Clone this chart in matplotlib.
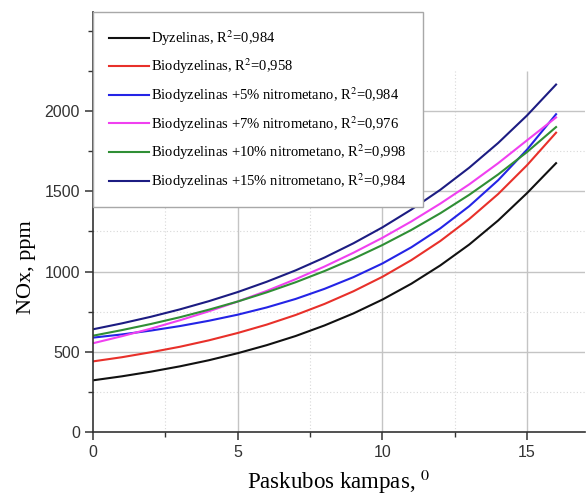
"""NOx emission versus injection advance angle for diesel and biodiesel blends."""

import matplotlib
matplotlib.use("Agg")
import matplotlib.pyplot as plt
from matplotlib.ticker import MultipleLocator

plt.rcParams["mathtext.fontset"] = "stix"

angle = list(range(0, 17))

nox_diesel = [322, 347, 376, 409, 447, 491, 541, 598, 664, 739, 825, 924, 1038, 1168, 1318, 1489, 1675]
nox_bio = [440, 466, 497, 531, 571, 617, 669, 729, 798, 877, 967, 1071, 1190, 1327, 1483, 1663, 1865]
nox_bio5 = [588, 608, 632, 660, 693, 731, 776, 829, 892, 965, 1050, 1151, 1269, 1407, 1569, 1760, 1980]
nox_bio7 = [553, 597, 644, 696, 752, 813, 879, 952, 1031, 1117, 1210, 1312, 1423, 1543, 1675, 1818, 1960]
nox_bio10 = [600, 635, 673, 715, 762, 813, 870, 933, 1003, 1080, 1165, 1259, 1363, 1478, 1605, 1745, 1900]
nox_bio15 = [640, 677, 718, 764, 815, 872, 936, 1007, 1087, 1176, 1275, 1386, 1509, 1647, 1801, 1973, 2165]

labels = [
    r"Dyzelinas, R$^2$=0,984",
    r"Biodyzelinas, R$^2$=0,958",
    r"Biodyzelinas +5% nitrometano, R$^2$=0,984",
    r"Biodyzelinas +7% nitrometano, R$^2$=0,976",
    r"Biodyzelinas +10% nitrometano, R$^2$=0,998",
    r"Biodyzelinas +15% nitrometano, R$^2$=0,984",
]
colors = ["#111111", "#e8302a", "#2424e6", "#f040f0", "#2f8f35", "#1c1c82"]
series = [nox_diesel, nox_bio, nox_bio5, nox_bio7, nox_bio10, nox_bio15]

fig = plt.figure(figsize=(5.87, 4.98), dpi=100)
ax = fig.add_axes([93 / 587, 66 / 498, 492 / 587, 420 / 498])
ax.set_xlim(0, 17.0)
ax.set_ylim(0, 2617)

# grid stops at 2250, below the top of the y axis
for x in [5, 10, 15]:
    ax.vlines(x, 0, 2250, color="#c4c4c4", lw=1.0, zorder=0)
for x in [2.5, 7.5, 12.5]:
    ax.vlines(x, 0, 2250, color="#d8d8d8", lw=0.8, ls=(0, (1, 2)), zorder=0)
for y in [500, 1000, 1500, 2000]:
    ax.axhline(y, color="#c4c4c4", lw=1.0, zorder=0)
for y in [250, 750, 1250, 1750]:
    ax.axhline(y, color="#d8d8d8", lw=0.8, ls=(0, (1, 2)), zorder=0)

for ys, c, lab in zip(series, colors, labels):
    ax.plot(angle, ys, color=c, lw=1.5, label=lab)

ax.spines["top"].set_visible(False)
ax.spines["right"].set_visible(False)
for s in ["left", "bottom"]:
    ax.spines[s].set_color("#333333")
    ax.spines[s].set_linewidth(1.2)

ax.xaxis.set_major_locator(MultipleLocator(5))
ax.xaxis.set_minor_locator(MultipleLocator(2.5))
ax.yaxis.set_minor_locator(MultipleLocator(250))
ax.set_yticks([0, 500, 1000, 1500, 2000])
ax.tick_params(which="major", direction="out", length=6, width=1.1, color="#333333",
               labelsize=11.5, labelcolor="#333333")
ax.tick_params(which="minor", direction="out", length=3.5, width=1.0, color="#333333")
for t in ax.get_xticklabels() + ax.get_yticklabels():
    t.set_fontfamily("Liberation Sans")

ax.set_xlabel(r"Paskubos kampas, $^0$", fontfamily="Liberation Serif", fontsize=16.5)
ax.set_ylabel("NOx, ppm", fontfamily="Liberation Serif", fontsize=16)
ax.xaxis.set_label_coords(0.5, -0.085)
ax.yaxis.set_label_coords(-0.115, 0.393)

leg = ax.legend(loc="upper left", bbox_to_anchor=(0, 1), borderaxespad=0,
                prop={"family": "Liberation Serif", "size": 10.5},
                handlelength=2.75, handletextpad=0.15, labelspacing=0.62,
                borderpad=1.1, fancybox=False, framealpha=1)
leg.get_frame().set_edgecolor("#a8a8a8")
leg.get_frame().set_linewidth(1.0)

fig.savefig("out.png", dpi=100)
